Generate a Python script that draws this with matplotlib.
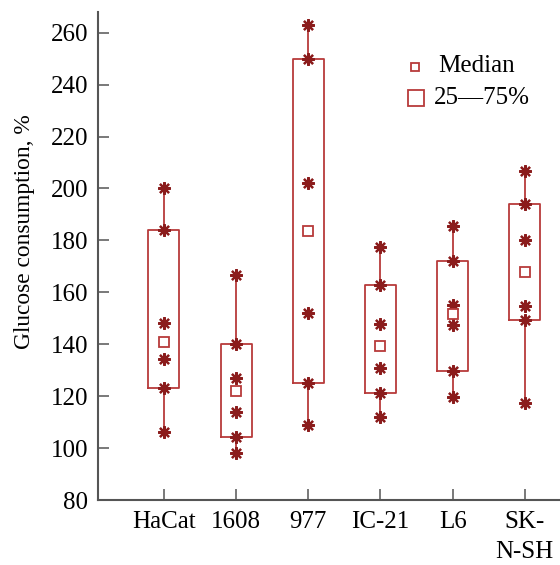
import matplotlib
matplotlib.use("Agg")
import matplotlib.pyplot as plt

categories = ["HaCat", "1608", "977", "IC-21", "L6", "SK-\nN-SH"]
whisker_low = [106.3, 98.0, 108.9, 111.9, 119.8, 117.3]
q25 = [123.1, 104.4, 125.0, 121.1, 129.7, 149.4]
inner_low = [134.4, 114.0, 152.2, 130.8, 147.5, 154.8]
median = [141.0, 121.8, 183.7, 139.4, 151.7, 168.0]
inner_high = [148.1, 126.9, 202.1, 147.8, 155.2, 180.2]
q75 = [183.8, 140.1, 249.9, 162.9, 171.9, 194.1]
whisker_high = [200.2, 166.6, 263.1, 177.6, 185.6, 206.9]
yticks = [80, 100, 120, 140, 160, 180, 200, 220, 240, 260]
legend_labels = ["Median", "25\u201475%"]

plt.rcParams['font.family'] = ['Liberation Serif', 'DejaVu Serif']
fig = plt.figure(figsize=(5.6, 5.65), dpi=100)
ax = fig.add_axes([0.175, 0.115, 0.824, 0.864])

box_c = "#b73a3a"
ast_c = "#8b1c1c"
hw = 0.215
fs = 18
for i in range(len(categories)):
    ax.plot([i, i], [whisker_low[i], q25[i]], color=box_c, lw=1.3, zorder=1)
    ax.plot([i, i], [q75[i], whisker_high[i]], color=box_c, lw=1.3, zorder=1)
    ax.plot([i - hw, i + hw, i + hw, i - hw, i - hw],
            [q25[i], q25[i], q75[i], q75[i], q25[i]], color=box_c, lw=1.3, zorder=1)
    pts = [whisker_low[i], q25[i], inner_low[i], inner_high[i], q75[i], whisker_high[i]]
    ax.plot([i] * len(pts), pts, linestyle='none', marker=(8, 2, 0), ms=9,
            mew=1.6, color=ast_c, zorder=3)
    ax.plot([i], [median[i]], linestyle='none', marker='s', ms=7, mfc='white',
            mec=box_c, mew=1.3, zorder=3)

ax.set_xlim(-0.913, 5.48)
ax.set_ylim(80, 268)
ax.set_xticks(range(len(categories)))
ax.set_xticklabels(categories, fontsize=fs, linespacing=1.45)
ax.set_yticks(yticks)
ax.set_yticklabels([str(v) for v in yticks], fontsize=fs)
ax.tick_params(direction='in', length=8, width=1.1, color='#555555')
ax.tick_params(axis='x', pad=8)
ax.tick_params(axis='y', pad=7)
ax.set_ylabel("Glucose consumption, %", fontsize=16.8)
ax.yaxis.set_label_coords(-0.137, 0.55)
for s in ['top', 'right']:
    ax.spines[s].set_visible(False)
for s in ['left', 'bottom']:
    ax.spines[s].set_color('#555555')
    ax.spines[s].set_linewidth(1.5)

# legend (manual)
ax.plot([0.688], [0.887], transform=ax.transAxes, linestyle='none', marker='s',
        ms=6.3, mfc='white', mec=box_c, mew=1.3, clip_on=False)
ax.text(0.738, 0.889, legend_labels[0], transform=ax.transAxes, fontsize=fs,
        va='center', ha='left')
ax.plot([0.690], [0.824], transform=ax.transAxes, linestyle='none', marker='s',
        ms=11.5, mfc='white', mec=box_c, mew=1.3, clip_on=False)
ax.text(0.727, 0.824, legend_labels[1], transform=ax.transAxes, fontsize=fs,
        va='center', ha='left')

fig.savefig("out.png", dpi=100)
